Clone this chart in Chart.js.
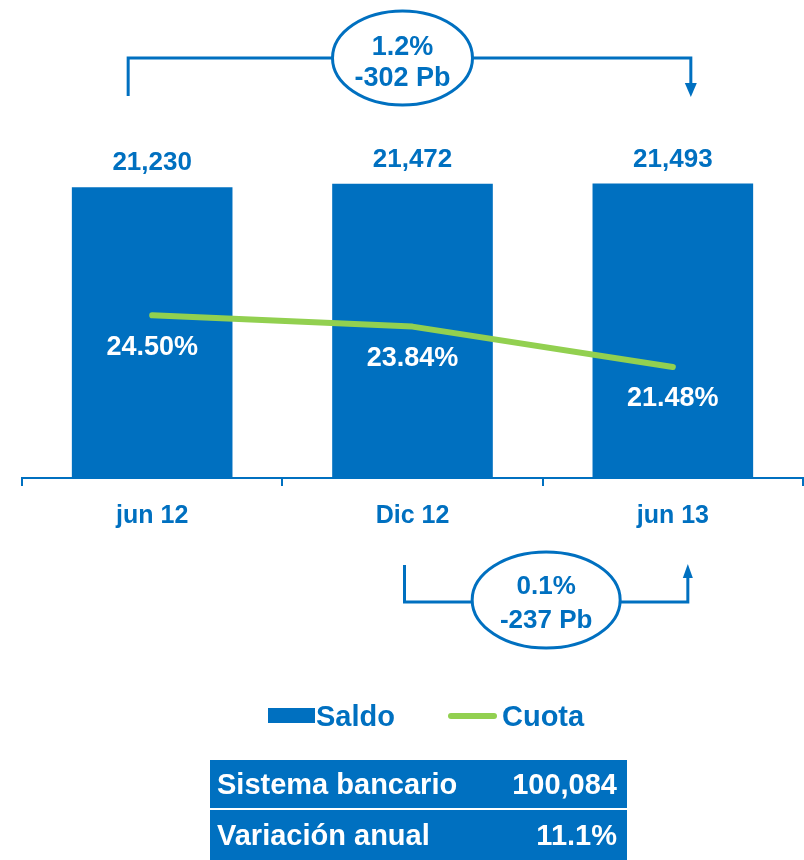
<!DOCTYPE html>
<html>
<head>
<meta charset="utf-8">
<script src="https://cdn.jsdelivr.net/npm/chart.js@4.4.1/dist/chart.umd.min.js"></script>
<style>
  body { margin: 0; background: #fff; font-family: "Liberation Sans", Arial, sans-serif; }
  #wrap { position: relative; width: 804px; height: 860px; }
  #grafico { position: absolute; left: 0; top: 0; }
  .leyenda-caja { position: absolute; left: 268px; top: 708px; width: 47px; height: 15px; background: #0070C0; }
  .leyenda-linea { position: absolute; left: 448px; top: 713px; width: 49px; height: 6px; border-radius: 3px; background: #92D050; }
  .leyenda-txt { position: absolute; top: 700px; line-height: 32px; font-size: 29px; font-weight: bold; color: #0070C0; }
  #tabla { position: absolute; left: 210px; top: 760px; width: 417px; }
  .fila { display: flex; justify-content: space-between; align-items: center; background: #0070C0; color: #fff;
          font-size: 29px; font-weight: bold; padding: 0 10px 0 7px; height: 48px; margin-bottom: 2px; }
</style>
</head>
<body>
<div id="wrap">
  <canvas id="grafico" width="804" height="860"></canvas>
  <div class="leyenda-caja"></div>
  <div class="leyenda-txt" id="txtSaldo" style="left:316px"></div>
  <div class="leyenda-linea"></div>
  <div class="leyenda-txt" id="txtCuota" style="left:502px"></div>
  <div id="tabla"></div>
</div>
<script>
// datos
const categorias = ['jun 12', 'Dic 12', 'jun 13'];
const saldo = [21230, 21472, 21493]; // barras
const cuota = [24.50, 23.84, 21.48]; // linea (%)
const notaSuperior = ['1.2%', '-302 Pb']; // jun 12 -> jun 13
const notaInferior = ['0.1%', '-237 Pb']; // Dic 12 -> jun 13
const resumenNombres = ['Sistema bancario', 'Variación anual'];
const resumenValores = ['100,084', '11.1%'];
const series = ['Saldo', 'Cuota'];

const azul = '#0070C0';
const verde = '#92D050';
const fuente = '"Liberation Sans", Arial, sans-serif';

// leyenda y tabla en html
document.getElementById('txtSaldo').textContent = series[0];
document.getElementById('txtCuota').textContent = series[1];
const tabla = document.getElementById('tabla');
resumenNombres.forEach((nombre, i) => {
  const fila = document.createElement('div');
  fila.className = 'fila';
  if (i === 1) fila.style.height = '50px';
  const a = document.createElement('span');
  a.textContent = nombre;
  const b = document.createElement('span');
  b.textContent = resumenValores[i];
  fila.appendChild(a);
  fila.appendChild(b);
  tabla.appendChild(fila);
});

function elipse(ctx, cx, cy, rx, ry, lineas, tam, ys) {
  ctx.beginPath();
  ctx.ellipse(cx, cy, rx, ry, 0, 0, Math.PI * 2);
  ctx.fillStyle = '#fff';
  ctx.fill();
  ctx.lineWidth = 3;
  ctx.strokeStyle = azul;
  ctx.stroke();
  ctx.fillStyle = azul;
  ctx.font = `bold ${tam}px ${fuente}`;
  ctx.textAlign = 'center';
  ctx.textBaseline = 'middle';
  lineas.forEach((t, i) => ctx.fillText(t, cx, ys[i]));
}

// etiquetas y anotaciones
const anotaciones = {
  id: 'anotaciones',
  afterDatasetsDraw(chart) {
    const ctx = chart.ctx;
    const barras = chart.getDatasetMeta(0).data;
    const puntos = chart.getDatasetMeta(1).data;
    ctx.save();

    // valores sobre las barras
    ctx.font = `bold 26px ${fuente}`;
    ctx.fillStyle = azul;
    ctx.textAlign = 'center';
    ctx.textBaseline = 'middle';
    barras.forEach((bar, i) => {
      ctx.fillText(saldo[i].toLocaleString('en-US'), bar.x, bar.y - 24);
    });

    // porcentajes debajo de la linea
    ctx.font = `bold 27px ${fuente}`;
    ctx.fillStyle = '#fff';
    puntos.forEach((p, i) => {
      ctx.fillText(cuota[i].toFixed(2) + '%', p.x, p.y + 32);
    });

    // corchete superior con flecha hacia abajo
    ctx.strokeStyle = azul;
    ctx.fillStyle = azul;
    ctx.lineWidth = 3;
    let x1 = barras[0].x - 24, x2 = barras[2].x + 18, yl = 58;
    ctx.beginPath();
    ctx.moveTo(x1, 96);
    ctx.lineTo(x1, yl);
    ctx.lineTo(x2, yl);
    ctx.lineTo(x2, 84);
    ctx.stroke();
    ctx.beginPath();
    ctx.moveTo(x2 - 6, 83);
    ctx.lineTo(x2 + 6, 83);
    ctx.lineTo(x2, 97);
    ctx.closePath();
    ctx.fill();
    elipse(ctx, barras[1].x - 10, yl, 70, 47, notaSuperior, 27, [47.5, 79]);

    // corchete inferior con flecha hacia arriba
    x1 = barras[1].x - 8;
    x2 = barras[2].x + 15;
    yl = 602;
    ctx.beginPath();
    ctx.moveTo(x1, 565);
    ctx.lineTo(x1, yl);
    ctx.lineTo(x2, yl);
    ctx.lineTo(x2, 577);
    ctx.stroke();
    ctx.beginPath();
    ctx.moveTo(x2 - 5, 578);
    ctx.lineTo(x2 + 5, 578);
    ctx.lineTo(x2, 564);
    ctx.closePath();
    ctx.fill();
    elipse(ctx, (x1 + x2) / 2, 600, 74, 48, notaInferior, 26, [587, 621]);

    ctx.restore();
  }
};

new Chart(document.getElementById('grafico'), {
  data: {
    labels: categorias,
    datasets: [
      {
        type: 'bar',
        label: series[0],
        data: saldo,
        backgroundColor: azul,
        categoryPercentage: 1,
        barPercentage: 0.617,
        yAxisID: 'y',
        order: 1
      },
      {
        type: 'line',
        label: series[1],
        data: cuota,
        borderColor: verde,
        borderWidth: 6,
        borderCapStyle: 'round',
        borderJoinStyle: 'round',
        pointRadius: 0,
        tension: 0,
        yAxisID: 'y2',
        order: 0
      }
    ]
  },
  options: {
    responsive: false,
    animation: false,
    events: [],
    layout: { padding: { top: 67, left: 22, right: 1, bottom: 314 } },
    plugins: { legend: { display: false }, tooltip: { enabled: false } },
    scales: {
      x: {
        grid: { drawOnChartArea: false, drawTicks: true, tickLength: 8, color: azul, lineWidth: 2, offset: true },
        border: { color: azul, width: 2 },
        ticks: { color: azul, padding: 15, font: { family: fuente, size: 25, weight: 'bold' } }
      },
      y: { display: false, min: 0, max: 30000 },
      y2: { display: false, min: 15, max: 39 }
    }
  },
  plugins: [anotaciones]
});
</script>
</body>
</html>
